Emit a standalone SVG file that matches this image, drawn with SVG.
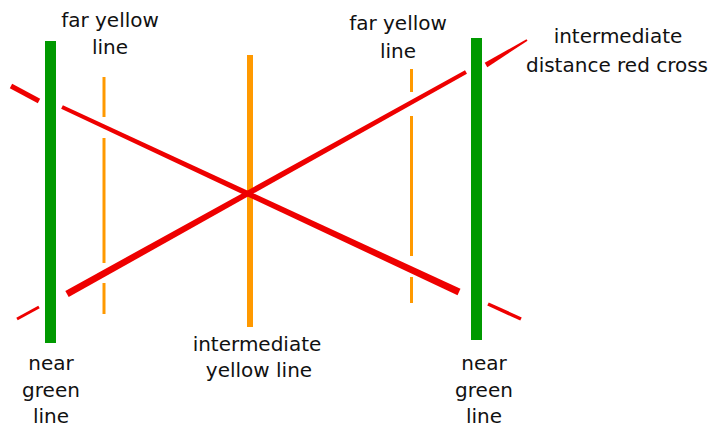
<svg xmlns="http://www.w3.org/2000/svg" width="715" height="430" viewBox="0 0 715 430">
<style>
.lbl{font-family:"DejaVu Sans","Liberation Sans",sans-serif;font-size:20px;fill:#111;text-anchor:middle}
.green{fill:#009900}
.yel{stroke:#ff9900;stroke-width:3;fill:none}
.red{fill:#ee0000}
.redl{stroke:#ee0000;fill:none}
</style>
<rect width="715" height="430" fill="#fff"/>
<g id="intermediate-yellow-line">
<rect x="247" y="55" width="6" height="272" fill="#ff9900"/>
</g>
<g id="far-yellow-line-left">
<line class="yel" x1="104" y1="77" x2="104" y2="117"/>
<line class="yel" x1="104" y1="138" x2="104" y2="263"/>
<line class="yel" x1="104" y1="283" x2="104" y2="314"/>
</g>
<g id="far-yellow-line-right">
<line class="yel" x1="411.5" y1="69" x2="411.5" y2="92"/>
<line class="yel" x1="411.5" y1="116" x2="411.5" y2="256"/>
<line class="yel" x1="411.5" y1="277" x2="411.5" y2="303"/>
</g>
<g id="red-cross">
<line class="redl" x1="11" y1="86" x2="39" y2="101" stroke-width="5"/>
<polygon class="red" points="61.16,108.81 457.52,295.17 460.48,288.83 62.85,105.19"/>
<line class="redl" x1="488" y1="304" x2="521" y2="319" stroke-width="3.5"/>
<line class="redl" x1="17" y1="319" x2="39" y2="307" stroke-width="3"/>
<polygon class="red" points="68.70,297.06 466.97,73.75 465.03,70.25 65.30,290.94"/>
<polygon class="red" points="487.30,67.13 527.52,40.85 526.48,39.15 484.70,62.87"/>
</g>
<g id="near-green-line-left">
<rect class="green" x="45" y="41" width="11" height="302"/>
</g>
<g id="near-green-line-right">
<rect class="green" x="471" y="38" width="11" height="302"/>
</g>
<g id="labels">
<text class="lbl" x="110" y="27">far yellow</text>
<text class="lbl" x="110" y="54">line</text>
<text class="lbl" x="398" y="30">far yellow</text>
<text class="lbl" x="398" y="58">line</text>
<text class="lbl" x="618" y="43">intermediate</text>
<text class="lbl" x="617" y="72">distance red cross</text>
<text class="lbl" x="257" y="351">intermediate</text>
<text class="lbl" x="259" y="377">yellow line</text>
<text class="lbl" x="51" y="370">near</text>
<text class="lbl" x="51" y="397">green</text>
<text class="lbl" x="51" y="423">line</text>
<text class="lbl" x="484" y="370">near</text>
<text class="lbl" x="484" y="397">green</text>
<text class="lbl" x="484" y="423">line</text>
</g>
</svg>
